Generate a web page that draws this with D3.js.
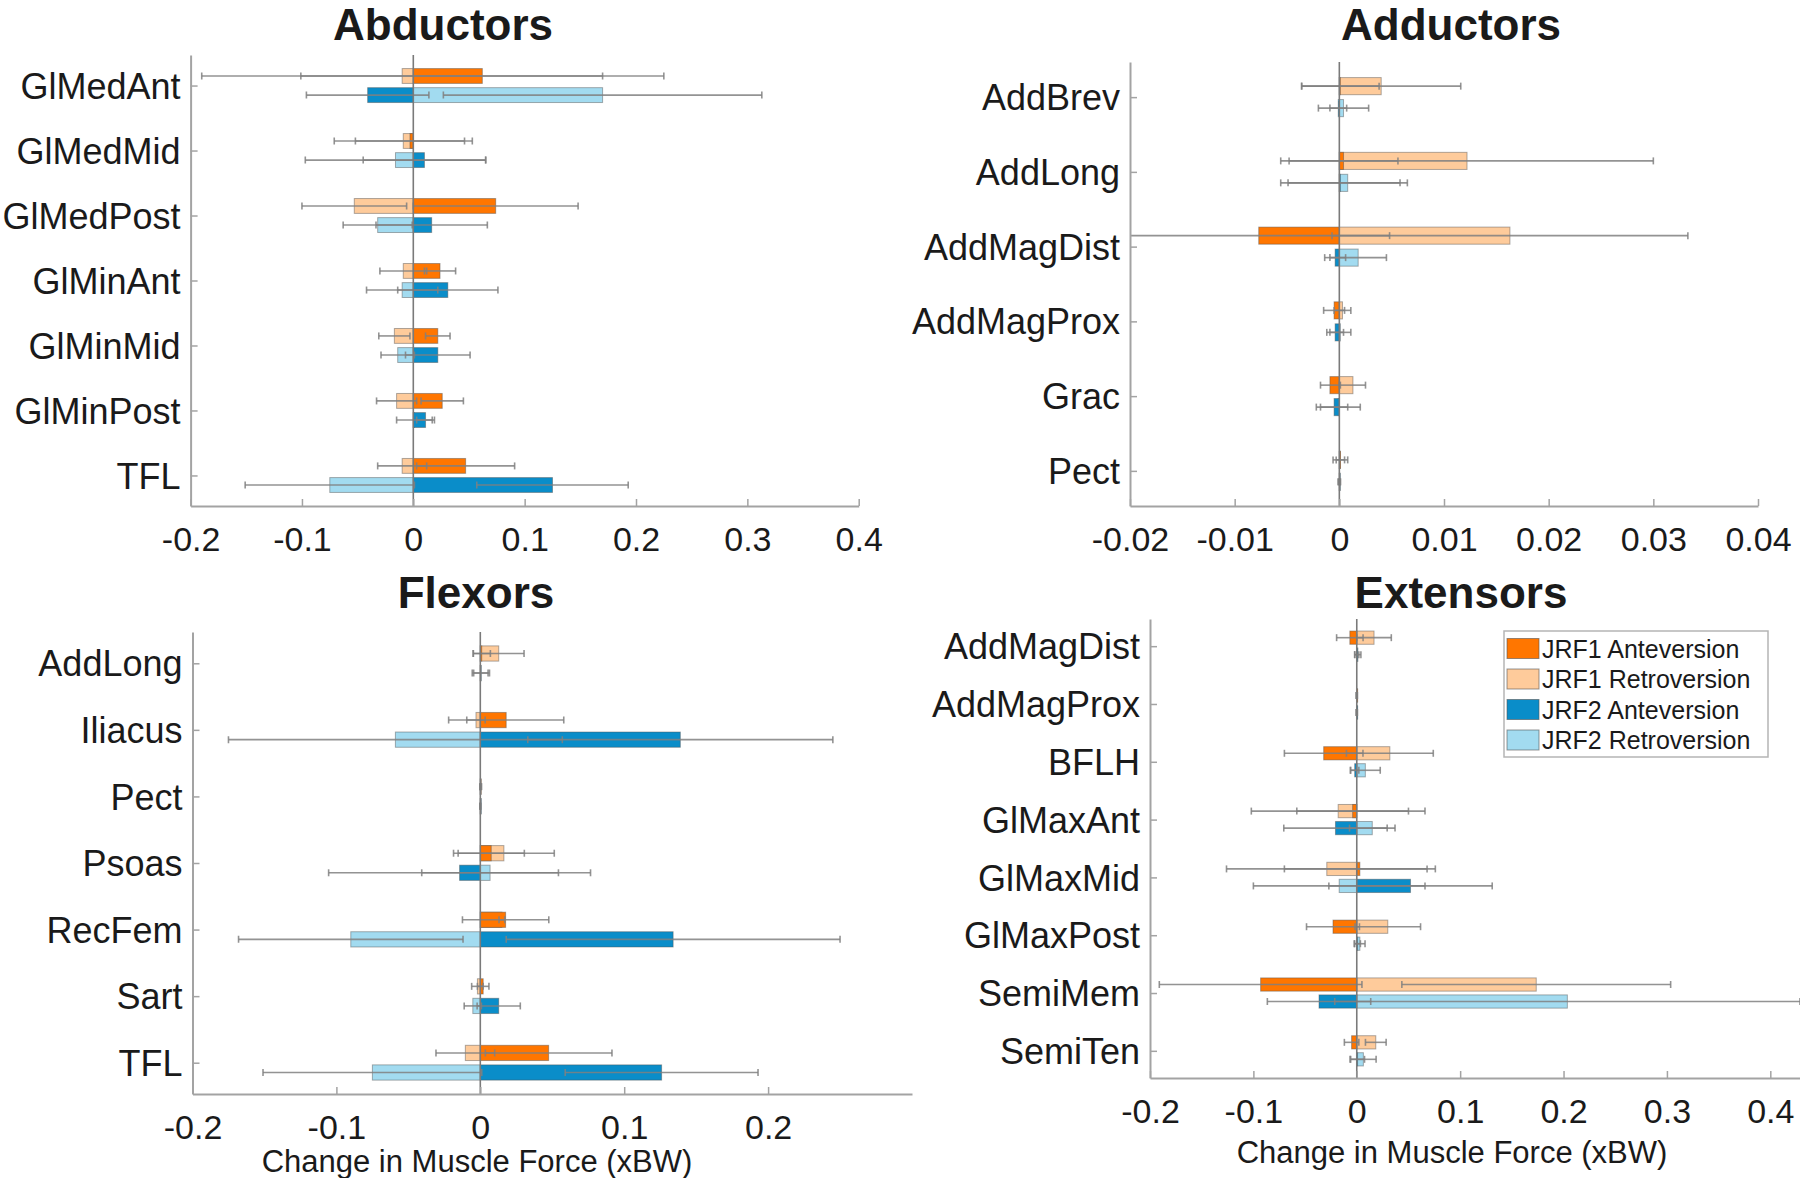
<!DOCTYPE html>
<html>
<head>
<meta charset="utf-8">
<script src="https://cdn.jsdelivr.net/npm/d3@7"></script>
<style>
  body { margin: 0; background: #fff; }
  text { font-family: "Liberation Sans", Arial, sans-serif; fill: #1a1a1a; }
</style>
</head>
<body>
<svg id="chart" width="1800" height="1178"></svg>
<script>

    // ---- Abductors ----
    const abdCats = ["GlMedAnt", "GlMedMid", "GlMedPost", "GlMinAnt", "GlMinMid", "GlMinPost", "TFL"];
    const abdJ1Ante = [0.062, -0.003, 0.074, 0.024, 0.022, 0.026, 0.047];
    const abdJ1AnteErr = [0.163, 0.049, 0.074, 0.014, 0.011, 0.019, 0.044];
    const abdJ1Retro = [-0.010, -0.009, -0.053, -0.009, -0.017, -0.015, -0.010];
    const abdJ1RetroErr = [0.180, 0.062, 0.047, 0.021, 0.014, 0.018, 0.022];
    const abdJ2Ante = [-0.041, 0.010, 0.0165, 0.031, 0.022, 0.011, 0.125];
    const abdJ2AnteErr = [0.055, 0.055, 0.050, 0.045, 0.029, 0.008, 0.068];
    const abdJ2Retro = [0.170, -0.016, -0.032, -0.010, -0.014, 0.001, -0.075];
    const abdJ2RetroErr = [0.143, 0.081, 0.031, 0.032, 0.015, 0.016, 0.076];
    const abdTicks = [-0.2, -0.1, 0, 0.1, 0.2, 0.3, 0.4];

    // ---- Adductors ----
    const addCats = ["AddBrev", "AddLong", "AddMagDist", "AddMagProx", "Grac", "Pect"];
    const addJ1Ante = [0.0001, 0.0004, -0.0077, -0.0005, -0.0009, 0.0001];
    const addJ1AnteErr = [0.0037, 0.0052, 0.0125, 0.0010, 0.0009, 0.0004];
    const addJ1Retro = [0.0040, 0.0122, 0.0163, 0.0003, 0.0013, 0.0001];
    const addJ1RetroErr = [0.0076, 0.0178, 0.0170, 0.0008, 0.0012, 0.0007];
    const addJ2Ante = [-0.0001, 0.0001, -0.0004, -0.0004, -0.0005, 0.0000];
    const addJ2AnteErr = [0.0008, 0.0057, 0.0010, 0.0008, 0.0013, 0.0001];
    const addJ2Retro = [0.0004, 0.0008, 0.0018, 0.0001, -0.0001, 0.0000];
    const addJ2RetroErr = [0.0024, 0.0057, 0.0027, 0.0010, 0.0021, 0.0001];
    const addTicks = [-0.02, -0.01, 0, 0.01, 0.02, 0.03, 0.04];

    // ---- Flexors ----
    const flxCats = ["AddLong", "Iliacus", "Pect", "Psoas", "RecFem", "Sart", "TFL"];
    const flxJ1Ante = [0.001, 0.018, 0.0003, 0.0076, 0.0176, 0.002, 0.0475];
    const flxJ1AnteErr = [0.006, 0.040, 0.0005, 0.023, 0.030, 0.004, 0.044];
    const flxJ1Retro = [0.0128, -0.003, 0.0002, 0.0164, 0.015, -0.002, -0.0104];
    const flxJ1RetroErr = [0.0176, 0.0064, 0.0005, 0.035, 0.002, 0.004, 0.0204];
    const flxJ2Ante = [0.0004, 0.139, 0.0, -0.0144, 0.134, 0.0128, 0.126];
    const flxJ2AnteErr = [0.006, 0.106, 0.0002, 0.091, 0.116, 0.015, 0.067];
    const flxJ2Retro = [0.0004, -0.059, 0.0, 0.0068, -0.090, -0.0052, -0.075];
    const flxJ2RetroErr = [0.005, 0.116, 0.0002, 0.0475, 0.078, 0.006, 0.076];
    const flxTicks = [-0.2, -0.1, 0, 0.1, 0.2];

    // ---- Extensors ----
    const extCats = ["AddMagDist", "AddMagProx", "BFLH", "GlMaxAnt", "GlMaxMid", "GlMaxPost", "SemiMem", "SemiTen"];
    const extJ1Ante = [-0.0067, 0.0, -0.032, -0.004, 0.003, -0.023, -0.093, -0.005];
    const extJ1AnteErr = [0.0128, 0.0005, 0.038, 0.054, 0.073, 0.0256, 0.098, 0.007];
    const extJ1Retro = [0.0167, 0.0, 0.032, -0.018, -0.029, 0.030, 0.1736, 0.0184];
    const extJ1RetroErr = [0.0167, 0.0005, 0.042, 0.084, 0.097, 0.0317, 0.130, 0.010];
    const extJ2Ante = [0.0, 0.0, -0.002, -0.0206, 0.052, 0.0005, -0.0365, 0.0005];
    const extJ2AnteErr = [0.002, 0.0005, 0.004, 0.050, 0.079, 0.003, 0.050, 0.007];
    const extJ2Retro = [0.001, 0.0, 0.0083, 0.015, -0.017, 0.003, 0.2037, 0.0064];
    const extJ2RetroErr = [0.003, 0.0005, 0.0144, 0.022, 0.083, 0.005, 0.225, 0.0123];
    const extTicks = [-0.2, -0.1, 0, 0.1, 0.2, 0.3, 0.4];

    const legendLabels = ["JRF1 Anteversion", "JRF1 Retroversion", "JRF2 Anteversion", "JRF2 Retroversion"];

    const col = { j1Ante: "#FF7600", j1Retro: "#FECB9B", j2Ante: "#0A8DC9", j2Retro: "#A2DBF0" };
    const axisGray = "#a3a3a3";
    const errGray = "#808080";

    // builds the 4 overlaid series of one panel; row -1 = JRF1 (upper), +1 = JRF2 (lower)
    function seriesOf(j1a, j1ae, j1r, j1re, j2a, j2ae, j2r, j2re) {
        return [
            { vals: j1r, errs: j1re, row: -1, fill: col.j1Retro },
            { vals: j1a, errs: j1ae, row: -1, fill: col.j1Ante },
            { vals: j2r, errs: j2re, row: 1, fill: col.j2Retro },
            { vals: j2a, errs: j2ae, row: 1, fill: col.j2Ante }
        ];
    }

    const panels = [
        { id: "abd", title: "Abductors", cats: abdCats, ticks: abdTicks,
          series: seriesOf(abdJ1Ante, abdJ1AnteErr, abdJ1Retro, abdJ1RetroErr, abdJ2Ante, abdJ2AnteErr, abdJ2Retro, abdJ2RetroErr),
          xDomain: [-0.2, 0.4], xRange: [190.6, 858.7], yRange: [55, 506], titleX: 443, titleY: 40 },
        { id: "add", title: "Adductors", cats: addCats, ticks: addTicks,
          series: seriesOf(addJ1Ante, addJ1AnteErr, addJ1Retro, addJ1RetroErr, addJ2Ante, addJ2AnteErr, addJ2Retro, addJ2RetroErr),
          xDomain: [-0.02, 0.04], xRange: [1130, 1758], yRange: [62, 506], titleX: 1451, titleY: 40 },
        { id: "flx", title: "Flexors", cats: flxCats, ticks: flxTicks,
          series: seriesOf(flxJ1Ante, flxJ1AnteErr, flxJ1Retro, flxJ1RetroErr, flxJ2Ante, flxJ2AnteErr, flxJ2Retro, flxJ2RetroErr),
          xDomain: [-0.2, 0.3], xRange: [192.5, 912], yRange: [632, 1094], titleX: 476, titleY: 608,
          xLabel: "Change in Muscle Force (xBW)", xLabelX: 477, xLabelY: 1172 },
        { id: "ext", title: "Extensors", cats: extCats, ticks: extTicks,
          series: seriesOf(extJ1Ante, extJ1AnteErr, extJ1Retro, extJ1RetroErr, extJ2Ante, extJ2AnteErr, extJ2Retro, extJ2RetroErr),
          xDomain: [-0.2, 0.45], xRange: [1150, 1822], yRange: [619, 1078], titleX: 1461, titleY: 608,
          xLabel: "Change in Muscle Force (xBW)", xLabelX: 1452, xLabelY: 1163, legend: true }
    ];

    const svg = d3.select("#chart");

    function drawPanel(p) {
        const g = svg.append("g").attr("class", "panel-" + p.id);
        const x = d3.scaleLinear().domain(p.xDomain).range(p.xRange);
        const y = d3.scalePoint().domain(p.cats).range(p.yRange).padding(0.47);
        const step = y.step();
        const barH = step * 0.229, off = step * 0.147;

        g.append("clipPath").attr("id", "clip-" + p.id)
            .append("rect")
            .attr("x", p.xRange[0]).attr("y", p.yRange[0])
            .attr("width", p.xRange[1] - p.xRange[0]).attr("height", p.yRange[1] - p.yRange[0]);

        const plot = g.append("g").attr("clip-path", "url(#clip-" + p.id + ")");

        // bars
        p.series.forEach(s => {
            plot.selectAll(null).data(p.cats).enter().append("rect")
                .attr("x", (c, i) => Math.min(x(0), x(s.vals[i])))
                .attr("width", (c, i) => Math.max(Math.abs(x(s.vals[i]) - x(0)), 0.8))
                .attr("y", c => y(c) + s.row * off - barH / 2)
                .attr("height", barH)
                .attr("fill", s.fill)
                .attr("stroke", "#4d4d4d").attr("stroke-opacity", 0.45).attr("stroke-width", 1);
        });

        // error bars, centred on each bar end
        p.series.forEach(s => {
            const eb = plot.selectAll(null).data(p.cats).enter().append("g")
                .attr("stroke", errGray).attr("stroke-width", 1.6).attr("stroke-opacity", 0.85);
            eb.append("line")
                .attr("x1", (c, i) => x(s.vals[i] - s.errs[i]))
                .attr("x2", (c, i) => x(s.vals[i] + s.errs[i]))
                .attr("y1", c => y(c) + s.row * off)
                .attr("y2", c => y(c) + s.row * off);
            [-1, 1].forEach(sg => {
                eb.append("line")
                    .attr("x1", (c, i) => x(s.vals[i] + sg * s.errs[i]))
                    .attr("x2", (c, i) => x(s.vals[i] + sg * s.errs[i]))
                    .attr("y1", c => y(c) + s.row * off - 3.5)
                    .attr("y2", c => y(c) + s.row * off + 3.5);
            });
        });

        // zero line
        plot.append("line")
            .attr("x1", x(0)).attr("x2", x(0))
            .attr("y1", p.yRange[0]).attr("y2", p.yRange[1])
            .attr("stroke", "#7a7a7a").attr("stroke-width", 1.6);

        // axes
        const xAxis = g.append("g").attr("transform", "translate(0," + p.yRange[1] + ")")
            .call(d3.axisBottom(x).tickValues(p.ticks).tickSizeInner(-7).tickSizeOuter(0)
                .tickFormat(d => String(d)));
        xAxis.selectAll("text").attr("y", 45).attr("dy", null)
            .style("font-size", "34px").style("font-family", "'Liberation Sans', Arial, sans-serif").attr("fill", "#1a1a1a");

        const yAxis = g.append("g").attr("transform", "translate(" + p.xRange[0] + ",0)")
            .call(d3.axisLeft(y).tickSizeInner(-7).tickSizeOuter(0).tickPadding(10));
        yAxis.selectAll("text").attr("dy", "0.35em")
            .style("font-size", "36px").style("font-family", "'Liberation Sans', Arial, sans-serif").attr("fill", "#1a1a1a");

        [xAxis, yAxis].forEach(a => {
            a.select(".domain").attr("stroke", axisGray).attr("stroke-width", 2);
            a.selectAll(".tick line").attr("stroke", axisGray).attr("stroke-width", 1.5);
        });

        // title
        g.append("text").attr("x", p.titleX).attr("y", p.titleY)
            .attr("text-anchor", "middle").style("font-size", "44px").style("font-weight", "bold")
            .text(p.title);

        if (p.xLabel) {
            g.append("text").attr("x", p.xLabelX).attr("y", p.xLabelY)
                .attr("text-anchor", "middle").style("font-size", "31px")
                .text(p.xLabel);
        }

        if (p.legend) {
            const lg = g.append("g").attr("transform", "translate(1504,631)");
            lg.append("rect").attr("width", 264).attr("height", 126)
                .attr("fill", "#fff").attr("stroke", "#b5b5b5").attr("stroke-width", 1.5);
            const legCols = [col.j1Ante, col.j1Retro, col.j2Ante, col.j2Retro];
            const items = lg.selectAll(null).data(legendLabels).enter().append("g")
                .attr("transform", (d, i) => "translate(0," + (17.5 + i * 30.5) + ")");
            items.append("rect").attr("x", 3).attr("y", -10).attr("width", 32).attr("height", 20)
                .attr("fill", (d, i) => legCols[i]).attr("stroke", "#555").attr("stroke-opacity", 0.6);
            items.append("text").attr("x", 38).attr("y", 9)
                .style("font-size", "25px").text(d => d);
        }
    }

    panels.forEach(drawPanel);

</script>
</body>
</html>
